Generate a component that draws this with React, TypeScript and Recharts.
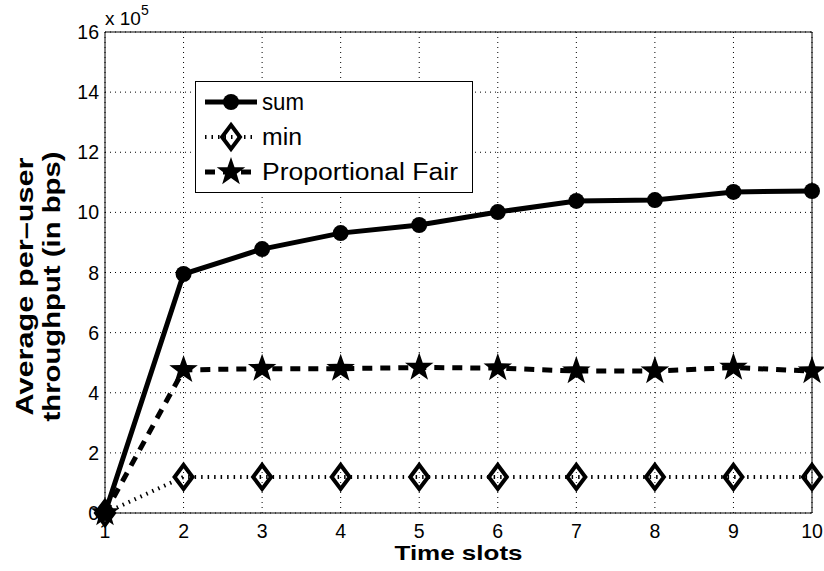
import React from "react";
import { LineChart, Line, XAxis, YAxis, CartesianGrid } from "recharts";

const timeSlots = [1, 2, 3, 4, 5, 6, 7, 8, 9, 10];
const sumThroughput = [0, 795000, 878000, 931000, 958000, 1001000, 1038000, 1041000, 1068000, 1071000];
const minThroughput = [0, 120000, 120000, 120000, 120000, 120000, 120000, 120000, 120000, 120000];
const pfThroughput = [0, 476000, 480000, 480000, 484000, 482000, 472000, 472000, 484000, 472000];

const yTicks = [0, 200000, 400000, 600000, 800000, 1000000, 1200000, 1400000, 1600000];

const FONT = "'Liberation Sans', Arial, Helvetica, sans-serif";

const data = timeSlots.map((t, i) => ({
  slot: t,
  sum: sumThroughput[i],
  min: minThroughput[i],
  pf: pfThroughput[i],
}));

function Circle({ cx, cy, r = 8 }: any) {
  return <circle cx={cx} cy={cy} r={r} fill="#000" />;
}

function Diamond({ cx, cy, w = 9, h = 12 }: any) {
  return (
    <path
      d={`M${cx},${cy - h} L${cx + w},${cy} L${cx},${cy + h} L${cx - w},${cy} Z`}
      fill="none"
      stroke="#000"
      strokeWidth={4}
      strokeLinejoin="miter"
    />
  );
}

function Star({ cx, cy, r = 15 }: any) {
  const pts: string[] = [];
  for (let k = 0; k < 10; k++) {
    const rad = k % 2 === 0 ? r : r * 0.4;
    const a = -Math.PI / 2 + (k * Math.PI) / 5;
    pts.push(`${cx + rad * Math.cos(a)},${cy + rad * Math.sin(a)}`);
  }
  return <polygon points={pts.join(" ")} fill="#000" />;
}

const series = [
  { key: "sum", name: "sum", dash: undefined, width: 5, Marker: Circle },
  { key: "min", name: "min", dash: "1.5 5", width: 4, Marker: Diamond },
  { key: "pf", name: "Proportional Fair", dash: "10 8", width: 5, Marker: Star },
];

const legendTextLength: Record<string, number> = { sum: 42, min: 40, pf: 196 };

function LegendBox() {
  return (
    <svg width={278} height={112} style={{ position: "absolute", left: 195, top: 81, display: "block" }}>
      <rect x={0.5} y={0.5} width={277} height={111} fill="#fff" stroke="#000" />
      {series.map((s, i) => {
        const cy = 21 + i * 35;
        const M = s.Marker;
        return (
          <g key={s.key}>
            <line x1={10} x2={62} y1={cy} y2={cy} stroke="#000" strokeWidth={s.width} strokeDasharray={s.dash} />
            <M cx={36} cy={cy} />
            <text
              x={67}
              y={cy + 8}
              fontSize={23}
              fontFamily={FONT}
              textLength={legendTextLength[s.key]}
              lengthAdjust="spacingAndGlyphs"
            >
              {s.name}
            </text>
          </g>
        );
      })}
    </svg>
  );
}

function YTick({ x, y, payload }: any) {
  return (
    <text x={x} y={y + 7} textAnchor="end" fontSize={19.5} fontFamily={FONT} fill="#000">
      {payload.value / 100000}
    </text>
  );
}

function XTick({ x, y, payload }: any) {
  return (
    <text x={x} y={y + 15} textAnchor="middle" fontSize={19.5} fontFamily={FONT} fill="#000">
      {payload.value}
    </text>
  );
}

function YTitle({ viewBox }: any) {
  const cy = viewBox.y + viewBox.height / 2 + 14;
  return (
    <g fontFamily={FONT} fontWeight="bold" fontSize={23} fill="#000">
      <text x={33} y={cy} textAnchor="middle" transform={`rotate(-90, 33, ${cy})`} textLength={258} lengthAdjust="spacingAndGlyphs">
        Average per–user
      </text>
      <text x={60} y={cy} textAnchor="middle" transform={`rotate(-90, 60, ${cy})`} textLength={270} lengthAdjust="spacingAndGlyphs">
        throughput (in bps)
      </text>
      <text x={viewBox.x + viewBox.width} y={viewBox.y - 7} fontWeight="normal" fontSize={19}>
        x 10
        <tspan dy={-10} fontSize={14}>5</tspan>
      </text>
    </g>
  );
}

function XTitle({ viewBox }: any) {
  return (
    <text
      x={viewBox.x + viewBox.width / 2}
      y={viewBox.y + 47}
      textAnchor="middle"
      fontFamily={FONT}
      fontWeight="bold"
      fontSize={21}
      textLength={128}
      lengthAdjust="spacingAndGlyphs"
      fill="#000"
    >
      Time slots
    </text>
  );
}

export default function App() {
  return (
    <div style={{ position: "absolute", left: 0, top: 0, width: 824, height: 571, background: "#fff" }}>
      <LineChart width={824} height={571} data={data} margin={{ top: 32, right: 12, bottom: 0, left: 0 }}>
        <CartesianGrid stroke="#000" strokeDasharray="1 4" strokeWidth={1} />
        <XAxis
          dataKey="slot"
          type="number"
          domain={[1, 10]}
          ticks={timeSlots}
          height={58}
          tickLine={false}
          tickSize={0}
          tickMargin={10}
          tick={<XTick />}
          axisLine={{ stroke: "#000" }}
          label={{ content: <XTitle /> }}
        />
        <XAxis
          xAxisId="top"
          orientation="top"
          mirror
          type="number"
          domain={[1, 10]}
          ticks={timeSlots}
          tick={false}
          tickSize={6}
          tickLine={{ stroke: "#000" }}
          axisLine={{ stroke: "#000" }}
        />
        <XAxis
          xAxisId="bottomTicks"
          orientation="bottom"
          mirror
          type="number"
          domain={[1, 10]}
          ticks={timeSlots}
          tick={false}
          tickSize={6}
          tickLine={{ stroke: "#000" }}
          axisLine={false}
        />
        <YAxis
          domain={[0, 1600000]}
          ticks={yTicks}
          width={105}
          tickLine={false}
          tickSize={0}
          tickMargin={6}
          tick={<YTick />}
          axisLine={{ stroke: "#000" }}
          label={{ content: <YTitle /> }}
        />
        <YAxis
          yAxisId="right"
          orientation="right"
          mirror
          domain={[0, 1600000]}
          ticks={yTicks}
          tick={false}
          tickSize={6}
          tickLine={{ stroke: "#000" }}
          axisLine={{ stroke: "#000" }}
        />
        <YAxis
          yAxisId="leftTicks"
          orientation="left"
          mirror
          domain={[0, 1600000]}
          ticks={yTicks}
          tick={false}
          tickSize={6}
          tickLine={{ stroke: "#000" }}
          axisLine={false}
        />
        {series.map((s) => {
          const M = s.Marker;
          return (
            <Line
              key={s.key}
              dataKey={s.key}
              name={s.name}
              type="linear"
              stroke="#000"
              strokeWidth={s.width}
              strokeDasharray={s.dash}
              isAnimationActive={false}
              dot={(p: any) => <M key={`${s.key}-${p.index}`} cx={p.cx} cy={p.cy} />}
              activeDot={false}
            />
          );
        })}
      </LineChart>
      <LegendBox />
    </div>
  );
}
